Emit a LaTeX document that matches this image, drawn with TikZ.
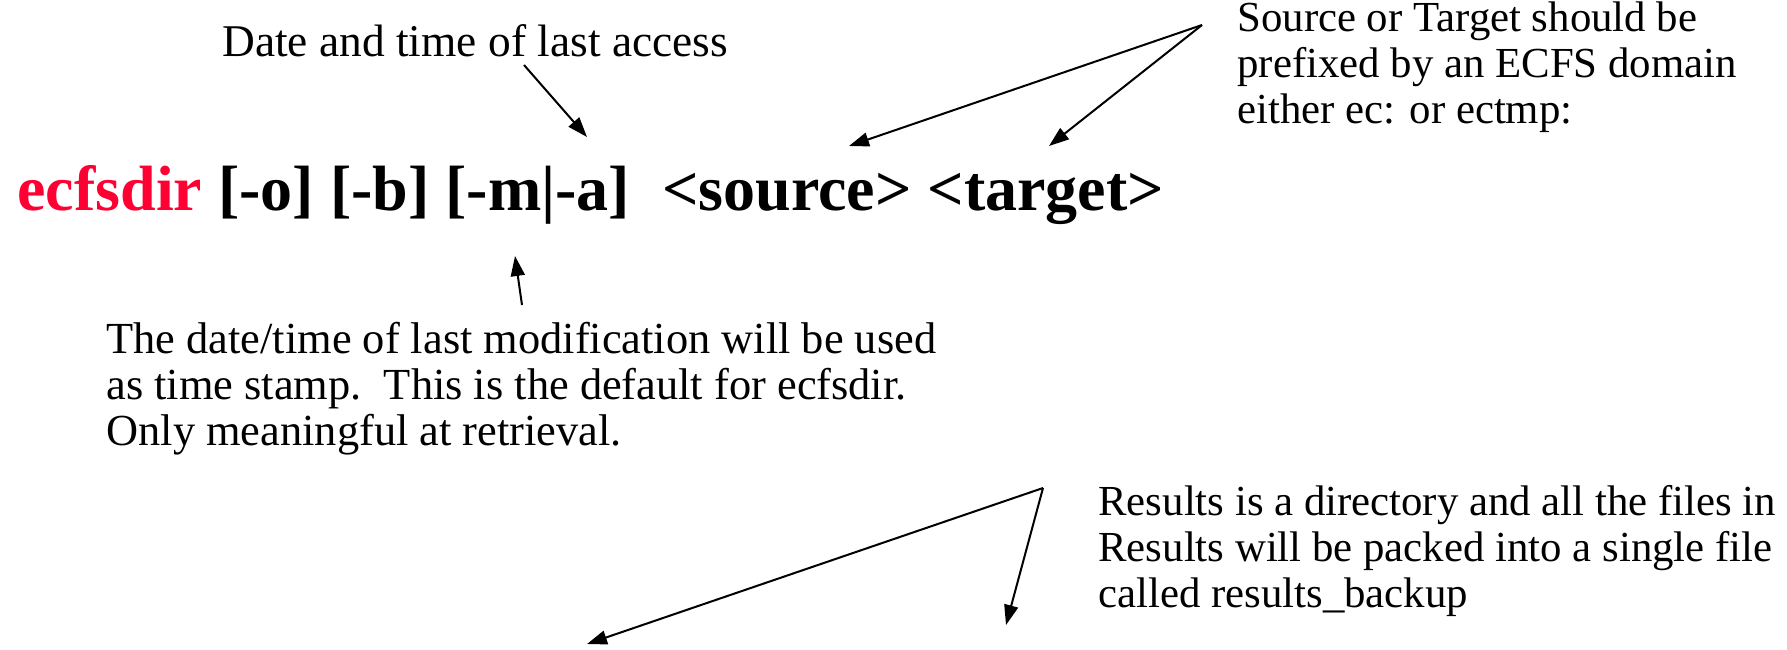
\documentclass[tikz,border=0pt]{standalone}
\usepackage{fontspec}
\setmainfont{Liberation Serif}
\usetikzlibrary{arrows.meta}
\definecolor{ecred}{RGB}{255,0,51}
\tikzset{
	note/.style={anchor=base west, inner sep=0pt, align=left, font=\fontsize{#1}{22.8}\selectfont},
	note/.default=22,
	cmdline/.style={anchor=base west, inner sep=0pt, font=\fontsize{32}{38}\selectfont\bfseries},
	pointer/.style={-{Triangle[length=10pt,width=7pt]}, line width=1pt}
}

\begin{document}
\begin{tikzpicture}[x=0.5pt,y=-0.5pt]
		\useasboundingbox (0,0) rectangle (1787,649);
		\node[note=22.7] (access) at (222,56) {Date and time of last access};
		\node[cmdline] (cmd) at (17,210) {\textcolor{ecred}{ecfsdir} [-o] [-b] [-m|-a]\ \ <source> <target>};
		\node[note=21.4] (domain) at (1237,123) {Source or Target should be \\ prefixed by an ECFS domain \\ either ec: or ectmp:};
		\node[note=22.2] (modif) at (106,445) {The date/time of last modification will be used \\ as time stamp.\ \ This is the default for ecfsdir. \\ Only meaningful at retrieval.};
		\node[note=21.4] (results) at (1098,607) {Results is a directory and all the files in \\ Results will be packed into a single file \\ called results\_backup};
		\coordinate (accesstail) at (524,65);
		\coordinate (accesstip) at (587,137);
		\coordinate (domaintail) at (1202,25);
		\coordinate (sourcetip) at (849,146);
		\coordinate (targettip) at (1049,146);
		\coordinate (modiftail) at (522,305);
		\coordinate (modiftip) at (515,256);
		\coordinate (resultstail) at (1043,488);
		\coordinate (lefttip) at (587,644);
		\coordinate (righttip) at (1006,625);
		\draw[pointer] (accesstail) -- (accesstip);
		\draw[pointer] (domaintail) -- (sourcetip);
		\draw[pointer] (domaintail) -- (targettip);
		\draw[pointer] (modiftail) -- (modiftip);
		\draw[pointer] (resultstail) -- (lefttip);
		\draw[pointer] (resultstail) -- (righttip);
\end{tikzpicture}
\end{document}
